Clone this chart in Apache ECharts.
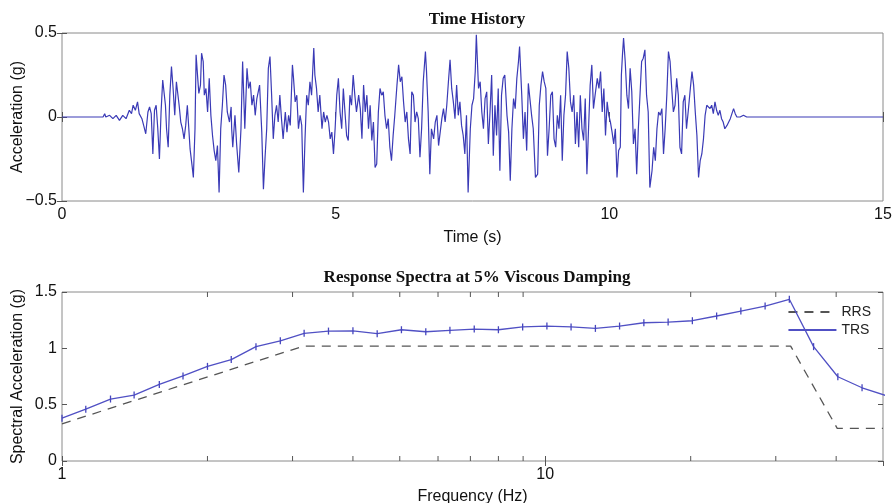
<!DOCTYPE html>
<html>
<head>
<meta charset="utf-8">
<script src="https://cdn.jsdelivr.net/npm/echarts@6/dist/echarts.min.js"></script>
<style>
  html, body { margin: 0; padding: 0; background: #fff; }
  #chart { width: 893px; height: 503px; }
</style>
</head>
<body>
<div id="chart"></div>
<script>
// ---- Time history: [time (s), acceleration (g)] ----
const timeHistory = [
  [0,0],[0.75,0],[0.78,0.02],[0.80,0.00],[0.87,0.01],[0.93,-0.01],[0.99,0.01],[1.05,-0.02],[1.11,0.01],[1.17,-0.01],
  [1.23,0.04],[1.27,0.02],[1.30,0.07],[1.34,0.04],[1.38,0.09],[1.41,0.02],[1.46,-0.01],[1.50,-0.06],[1.53,-0.10],[1.57,0.03],
  [1.60,0.06],[1.63,0.02],[1.66,-0.22],[1.69,0.04],[1.72,0.07],[1.75,-0.07],[1.78,-0.25],[1.81,0.03],[1.84,0.22],[1.86,0.23],
  [1.89,0.07],[1.91,-0.07],[1.94,-0.18],[1.97,0.13],[2.00,0.30],[2.03,0.17],[2.06,0.01],[2.09,0.21],[2.11,0.22],[2.14,0.07],
  [2.17,-0.03],[2.20,-0.07],[2.23,-0.13],[2.26,-0.05],[2.29,0.07],[2.32,0.08],[2.34,-0.19],[2.38,-0.30],[2.40,-0.36],[2.43,-0.07],
  [2.45,0.37],[2.48,0.23],[2.50,0.14],[2.53,0.19],[2.55,0.38],[2.58,0.33],[2.60,0.13],[2.63,0.17],[2.66,0.03],[2.69,0.23],
  [2.72,0.01],[2.75,-0.11],[2.78,-0.20],[2.81,-0.26],[2.84,-0.17],[2.87,-0.45],[2.90,-0.07],[2.93,0.07],[2.96,0.25],[2.99,0.19],
  [3.02,0.03],[3.06,-0.03],[3.09,0.06],[3.10,-0.07],[3.12,-0.18],[3.16,0.01],[3.19,-0.16],[3.23,-0.33],[3.27,-0.07],[3.30,0.33],
  [3.34,-0.07],[3.38,0.29],[3.41,0.17],[3.44,0.21],[3.47,0.07],[3.50,0.13],[3.53,0.01],[3.56,0.11],[3.61,0.19],[3.65,-0.09],
  [3.68,-0.43],[3.71,-0.24],[3.74,-0.07],[3.77,0.29],[3.80,0.36],[3.83,0.13],[3.86,-0.13],[3.89,0.01],[3.92,0.07],[3.95,-0.03],
  [3.98,0.13],[4.01,-0.01],[4.04,-0.13],[4.08,0.03],[4.11,-0.09],[4.14,0.01],[4.17,-0.05],[4.21,0.31],[4.23,0.23],[4.26,0.09],
  [4.29,0.13],[4.32,-0.07],[4.35,0.01],[4.38,-0.05],[4.41,-0.45],[4.44,-0.13],[4.47,0.13],[4.50,0.07],[4.53,0.21],[4.56,0.13],
  [4.60,0.41],[4.62,0.25],[4.65,0.17],[4.68,0.03],[4.71,0.13],[4.75,-0.07],[4.78,0.03],[4.81,-0.03],[4.84,0.01],[4.87,-0.03],
  [4.90,-0.13],[4.93,-0.09],[4.96,-0.22],[4.99,-0.07],[5.02,0.13],[5.05,0.23],[5.08,0.03],[5.11,-0.07],[5.14,0.17],[5.17,0.03],
  [5.20,-0.11],[5.23,-0.14],[5.26,0.13],[5.29,0.07],[5.32,0.25],[5.35,0.13],[5.38,0.03],[5.42,0.13],[5.45,0.05],[5.48,-0.13],
  [5.51,0.19],[5.54,0.03],[5.57,0.13],[5.60,-0.07],[5.63,0.07],[5.66,-0.14],[5.69,-0.03],[5.72,-0.30],[5.75,-0.28],[5.78,0.03],
  [5.81,0.17],[5.84,0.13],[5.87,0.15],[5.90,0.01],[5.93,-0.07],[5.96,-0.01],[5.99,-0.18],[6.02,-0.26],[6.05,-0.11],[6.08,0.01],
  [6.12,0.19],[6.15,0.31],[6.18,0.21],[6.21,0.24],[6.24,0.09],[6.27,-0.03],[6.30,0.03],[6.33,-0.13],[6.36,-0.22],[6.39,0.15],
  [6.42,0.13],[6.45,-0.03],[6.48,0.03],[6.51,-0.01],[6.54,-0.24],[6.57,-0.07],[6.60,0.21],[6.64,0.39],[6.66,0.27],[6.69,0.03],
  [6.72,-0.34],[6.75,-0.07],[6.79,-0.13],[6.82,-0.03],[6.85,0.01],[6.88,-0.17],[6.91,-0.09],[6.94,-0.01],[6.97,0.05],[7.00,-0.03],
  [7.03,0.07],[7.06,0.21],[7.09,0.34],[7.12,0.17],[7.15,0.09],[7.18,-0.01],[7.21,0.19],[7.24,0.01],[7.27,0.09],[7.30,-0.05],
  [7.33,-0.11],[7.36,-0.22],[7.39,0.01],[7.42,-0.45],[7.46,-0.07],[7.49,0.07],[7.52,0.11],[7.55,0.27],[7.57,0.49],[7.61,0.17],
  [7.64,0.21],[7.67,0.03],[7.70,-0.07],[7.73,0.11],[7.76,0.15],[7.79,-0.16],[7.82,0.03],[7.85,0.25],[7.88,-0.23],[7.91,0.07],
  [7.94,-0.11],[7.97,0.17],[8.00,-0.32],[8.03,0.13],[8.06,0.23],[8.09,0.25],[8.13,0.01],[8.16,-0.09],[8.19,-0.38],[8.22,-0.07],
  [8.25,0.11],[8.28,0.05],[8.31,0.23],[8.34,0.33],[8.36,0.42],[8.40,0.13],[8.43,-0.13],[8.46,0.03],[8.49,-0.20],[8.52,0.20],
  [8.55,0.19],[8.58,0.01],[8.61,-0.07],[8.65,-0.36],[8.69,-0.34],[8.72,0.07],[8.75,0.19],[8.78,0.27],[8.81,0.21],[8.84,0.17],
  [8.87,-0.23],[8.90,-0.07],[8.93,0.13],[8.96,0.15],[8.99,-0.13],[9.02,-0.18],[9.05,0.01],[9.08,-0.07],[9.11,0.13],[9.14,-0.26],
  [9.17,0.01],[9.20,0.13],[9.23,0.39],[9.26,0.29],[9.29,0.09],[9.32,0.03],[9.35,0.13],[9.38,-0.16],[9.41,0.03],[9.44,-0.18],
  [9.47,0.13],[9.50,-0.07],[9.53,-0.14],[9.56,0.11],[9.59,-0.34],[9.62,-0.07],[9.65,0.19],[9.68,0.31],[9.71,0.05],[9.74,0.13],
  [9.78,0.23],[9.81,0.17],[9.84,0.27],[9.87,0.03],[9.90,0.17],[9.93,-0.11],[9.96,0.09],[9.99,0.01],[10.02,-0.03],[10.05,-0.09],
  [10.08,-0.16],[10.11,-0.07],[10.14,-0.36],[10.17,-0.20],[10.20,-0.18],[10.22,0.25],[10.24,0.37],[10.26,0.47],[10.29,0.33],[10.32,0.13],
  [10.35,0.05],[10.38,0.29],[10.41,0.15],[10.44,-0.16],[10.47,-0.07],[10.50,-0.34],[10.53,-0.07],[10.56,0.13],[10.59,0.33],[10.62,0.35],
  [10.65,0.40],[10.68,0.13],[10.71,0.03],[10.74,-0.42],[10.78,-0.32],[10.81,-0.18],[10.84,-0.26],[10.87,-0.07],[10.90,0.03],[10.93,0.01],
  [10.96,0.05],[10.99,-0.22],[11.02,-0.07],[11.05,0.13],[11.08,0.39],[11.11,0.33],[11.14,0.17],[11.17,0.03],[11.20,0.07],[11.23,0.23],
  [11.26,0.13],[11.29,-0.18],[11.32,-0.22],[11.35,0.09],[11.38,0.13],[11.41,-0.07],[11.44,0.03],[11.48,0.17],[11.51,0.27],[11.54,0.19],
  [11.57,0.03],[11.60,-0.11],[11.63,-0.36],[11.66,-0.26],[11.69,-0.22],[11.72,-0.13],[11.75,0.01],[11.78,0.07],[11.81,0.08],[11.84,0.05],
  [11.87,0.07],[11.90,0.02],[11.93,0.09],[11.96,0.04],[11.99,0.01],[12.02,0.04],[12.05,-0.01],[12.08,-0.03],[12.11,-0.07],[12.15,-0.05],
  [12.18,-0.06],[12.21,-0.01],[12.24,0.02],[12.27,0.05],[12.30,0.02],[12.33,0.00],[12.39,0.00],[12.45,0.01],[12.51,0.00],[15,0]
];

// ---- Response spectra ----
const trsFreqHz = [1.00,1.12,1.26,1.41,1.59,1.78,2.00,2.24,2.52,2.83,3.17,3.56,4.00,4.49,5.04,5.66,6.35,7.13,
                   8.00,8.98,10.08,11.31,12.70,14.25,16.00,17.96,20.16,22.63,25.40,28.51,32.00,35.92,40.32,45.25,50.80];
const trsAccelG = [0.38,0.46,0.55,0.585,0.68,0.755,0.84,0.90,1.015,1.067,1.133,1.153,1.155,1.13,1.165,1.147,1.16,1.171,
                   1.165,1.19,1.198,1.19,1.177,1.198,1.227,1.233,1.245,1.287,1.331,1.375,1.435,1.015,0.748,0.65,0.58];
const rrsFreqHz = [1, 3.16, 32.2, 40.2, 50];
const rrsAccelG = [0.33, 1.02, 1.02, 0.29, 0.29];

// ---- Axis ticks ----
const timeTicksS = [0, 5, 10, 15];
const accelTicksG = [-0.5, 0, 0.5];
const spectraTicksG = [0, 0.5, 1, 1.5];
const freqLabelsHz = [1, 10];
const freqMinorTicksHz = [2, 3, 4, 5, 6, 7, 8, 9, 20, 30, 40];

const SANS = 'Liberation Sans, Arial, sans-serif';
const SERIF = 'Liberation Serif, Times New Roman, serif';
const BLUE = '#3a3ab6';
const FRAME = '#8a8a8a';
const TICK = '#555';

function fmtNum(v) {
  const r = Math.round(v * 100) / 100;
  if (r === 0) return '0';
  return r < 0 ? '\u2212' + String(-r) : String(r);
}

const zip = (a, b) => a.map((x, i) => [x, b[i]]);

const chart = echarts.init(document.getElementById('chart'), null, { renderer: 'canvas' });

const baseLabel = { color: '#111', fontFamily: SANS, fontSize: 16 };
const tickInside = { show: true, inside: true, length: 5, lineStyle: { color: TICK, width: 1 } };
const nameStyle = { fontFamily: SANS, fontSize: 16, color: '#111' };

const option = {
  animation: false,
  backgroundColor: '#fff',
  title: [
    { text: 'Time History', left: 472, top: 6, textAlign: 'center',
      textStyle: { fontFamily: SERIF, fontWeight: 'bold', fontSize: 17, color: '#111' } },
    { text: 'Response Spectra at 5% Viscous Damping', left: 472, top: 264, textAlign: 'center',
      textStyle: { fontFamily: SERIF, fontWeight: 'bold', fontSize: 17, color: '#111' } }
  ],
  legend: {
    orient: 'vertical', right: 22, top: 305, padding: 0, itemGap: 4,
    itemWidth: 48, itemHeight: 14,
    textStyle: { fontFamily: SANS, fontSize: 14, color: '#222' },
    data: [{ name: 'RRS', itemStyle: { opacity: 0 } }, { name: 'TRS', itemStyle: { opacity: 0 } }]
  },
  grid: [
    { left: 62, right: 10, top: 33, height: 168, show: true, borderColor: FRAME, borderWidth: 1,
      backgroundColor: '#fff', containLabel: false, outerBoundsMode: 'none' },
    { left: 62, right: 10, top: 292, height: 169, show: true, borderColor: FRAME, borderWidth: 1,
      backgroundColor: '#fff', containLabel: false, outerBoundsMode: 'none' }
  ],
  xAxis: [
    { type: 'value', gridIndex: 0, min: timeTicksS[0], max: timeTicksS[timeTicksS.length - 1], interval: timeTicksS[1] - timeTicksS[0],
      name: 'Time (s)', nameLocation: 'middle', nameGap: 29, nameMoveOverlap: false, nameTextStyle: nameStyle,
      axisLine: { show: false }, axisTick: tickInside, splitLine: { show: false },
      axisLabel: Object.assign({ margin: 6, formatter: fmtNum }, baseLabel) },
    { type: 'value', gridIndex: 0, position: 'top', min: 0, max: 15, interval: 5,
      axisLine: { show: false }, axisTick: tickInside, splitLine: { show: false }, axisLabel: { show: false } },
    { type: 'log', gridIndex: 1, logBase: 10, min: 1, max: 50,
      name: 'Frequency (Hz)', nameLocation: 'middle', nameGap: 28, nameMoveOverlap: false, nameTextStyle: nameStyle,
      axisLine: { show: false }, axisTick: tickInside, splitLine: { show: false }, minorTick: { show: false },
      axisLabel: Object.assign({ margin: 6, showMaxLabel: false,
        formatter: v => (freqLabelsHz.some(f => Math.abs(f - v) < 1e-6) ? String(Math.round(v)) : '') }, baseLabel) },
    { type: 'log', gridIndex: 1, logBase: 10, min: 1, max: 50, position: 'top',
      axisLine: { show: false }, axisTick: tickInside, splitLine: { show: false }, axisLabel: { show: false } }
  ],
  yAxis: [
    { type: 'value', gridIndex: 0, min: accelTicksG[0], max: accelTicksG[accelTicksG.length - 1], interval: 0.5,
      name: 'Acceleration (g)', nameLocation: 'middle', nameGap: 36, nameMoveOverlap: false, nameTextStyle: nameStyle,
      axisLine: { show: false }, axisTick: tickInside, splitLine: { show: false },
      axisLabel: Object.assign({ margin: 5, formatter: fmtNum }, baseLabel) },
    { type: 'value', gridIndex: 0, position: 'right', min: -0.5, max: 0.5, interval: 0.5,
      axisLine: { show: false }, axisTick: tickInside, splitLine: { show: false }, axisLabel: { show: false } },
    { type: 'value', gridIndex: 1, min: spectraTicksG[0], max: spectraTicksG[spectraTicksG.length - 1], interval: 0.5,
      name: 'Spectral Acceleration (g)', nameLocation: 'middle', nameGap: 36, nameMoveOverlap: false, nameTextStyle: nameStyle,
      axisLine: { show: false }, axisTick: tickInside, splitLine: { show: false },
      axisLabel: Object.assign({ margin: 5, formatter: fmtNum }, baseLabel) },
    { type: 'value', gridIndex: 1, position: 'right', min: 0, max: 1.5, interval: 0.5,
      axisLine: { show: false }, axisTick: tickInside, splitLine: { show: false }, axisLabel: { show: false } }
  ],
  series: [
    { name: 'Acceleration', type: 'line', xAxisIndex: 0, yAxisIndex: 0, data: timeHistory,
      showSymbol: false, symbol: 'none', sampling: null,
      lineStyle: { color: BLUE, width: 1.2 }, itemStyle: { color: BLUE }, z: 3 },
    { name: 'RRS', type: 'line', xAxisIndex: 2, yAxisIndex: 2, data: zip(rrsFreqHz, rrsAccelG),
      symbol: 'none', lineStyle: { color: '#555', width: 1.3, type: [9, 7] }, itemStyle: { color: '#555' }, z: 3 },
    { name: 'TRS', type: 'line', xAxisIndex: 2, yAxisIndex: 2, data: zip(trsFreqHz, trsAccelG),
      symbol: 'rect', symbolSize: [1.3, 7], showSymbol: true,
      lineStyle: { color: '#5050c4', width: 1.3 }, itemStyle: { color: '#4646be' }, z: 4 },
    { name: 'minorTicks', type: 'custom', xAxisIndex: 2, yAxisIndex: 2, silent: true, z: 2,
      data: freqMinorTicksHz.map(f => [f, 0]),
      encode: { x: 0, y: 1 },
      renderItem: function (params, api) {
        const f = api.value(0);
        const b = api.coord([f, 0]);
        const t = api.coord([f, 1.5]);
        const st = { stroke: TICK, lineWidth: 1 };
        return { type: 'group', children: [
          { type: 'line', shape: { x1: b[0], y1: b[1], x2: b[0], y2: b[1] - 5 }, style: st },
          { type: 'line', shape: { x1: t[0], y1: t[1], x2: t[0], y2: t[1] + 5 }, style: st }
        ] };
      } }
  ]
};

chart.setOption(option);
</script>
</body>
</html>
